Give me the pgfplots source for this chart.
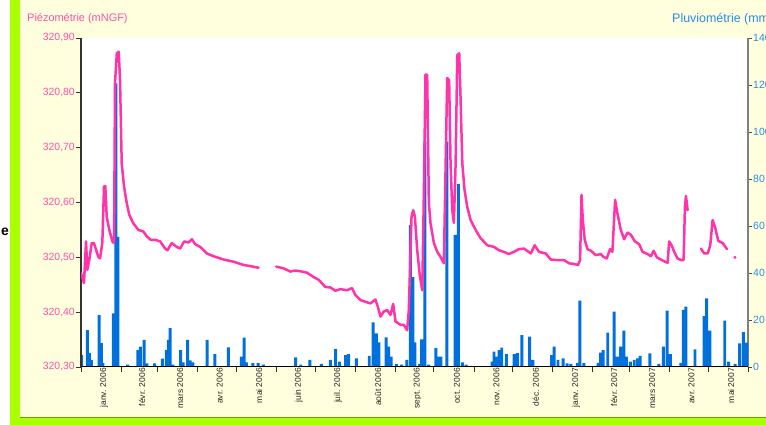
\documentclass[border=0pt]{standalone}
\usepackage{fontspec}
\setmainfont{Liberation Sans}
\usepackage{pgfplots}
\pgfplotsset{compat=1.18}
\definecolor{bgyel}{RGB}{255,255,221}
\definecolor{lime}{RGB}{170,255,0}
\definecolor{limedark}{RGB}{110,160,0}
\definecolor{piez}{RGB}{255,51,170}
\definecolor{piezlab}{RGB}{255,80,170}
\definecolor{rainbar}{RGB}{0,112,221}
\definecolor{rainlab}{RGB}{40,140,235}
\begin{document}
\begin{tikzpicture}
\useasboundingbox (0bp,0bp) rectangle (766bp,425bp);
\clip (0bp,0bp) rectangle (766bp,425bp);
\fill[white] (0bp,0bp) rectangle (766bp,425bp);
\fill[bgyel] (20bp,7bp) rectangle (766bp,425bp);
\fill[lime] (10bp,0bp) rectangle (20bp,425bp);
\fill[lime] (10bp,0bp) rectangle (766bp,7bp);
\draw[limedark, line width=0.8bp] (20bp,7.4bp) -- (766bp,7.4bp);
\fill[white] (81bp,58bp) rectangle (748bp,387bp);
\node[anchor=west, text=piezlab, font=\fontsize{11}{13}\selectfont, inner sep=0pt] at (27bp,406bp) {Piézométrie (mNGF)};
\node[anchor=west, text=rainlab, font=\fontsize{12.5}{14}\selectfont, inner sep=0pt] at (672bp,406bp) {Pluviométrie (mm)};
\node[anchor=east, font=\fontsize{14}{16}\selectfont\bfseries, inner sep=0pt] at (9bp,193bp) {e};

% rainfall bars (right axis)
\begin{axis}[at={(81bp,58bp)}, anchor=south west, scale only axis,
  width=667bp, height=329bp,
  xmin=0, xmax=516, ymin=0, ymax=140,
  axis x line=none, axis y line*=right,
  ytick={0,20,40,60,80,100,120,140},
  tick align=outside, major tick length=4bp,
  tick style={black!70, line width=0.8bp},
  y axis line style={draw=gray, line width=1.6bp},
  yticklabel style={text=rainlab, font=\fontsize{10.5}{12}\selectfont, inner sep=1bp,
    /pgf/number format/assume math mode=true},
]
\addplot[ybar, bar width=2.3, fill=rainbar, draw=none] coordinates {
(0.5,5.1) (5,15.7) (6.5,6) (8,3) (14,22.1) (15.7,10.2) (17,1.7) (25,22.8) (27,120.7) (28.5,55.4)
(36,1) (44,7.2) (46,8.7) (48.8,11.5) (51,1.5) (57,1.5) (63,3.6) (66,7.2) (67.5,11.5) (69,16.5)
(71,1) (77,7.2) (79,2) (82.5,11.5) (84.5,2.8) (86.5,2) (97.5,11.5) (103.5,5.5) (114,8.4) (124,4.4)
(126.2,12.5) (128,2) (133,1.7) (137,1.7) (141,1) (166,4.1) (170,1) (177,3) (186,1.3) (193,3)
(197,7.7) (200,2.3) (204.7,5.1) (207,5.5) (213,3.7) (223,4.7) (226,19) (228.5,14.3) (230.5,10.5) (236,12.6)
(238,8.7) (240,4.4) (244,1.3) (248,1) (252,3) (254.8,60.4) (256.7,38.2) (258.3,10.5) (262,1.3) (263.5,11.8)
(266,95.9) (269,1) (274.5,8) (276.5,4.4) (278.5,4.4) (283,95.9) (289.5,56.2) (292,77.9) (295,2) (298,1)
(318,2.3) (319.5,6.5) (322,4.4) (323.5,7.2) (325.5,8.2) (329,5.5) (335,5.5) (337.5,5.9) (341,13.6) (347,12.9)
(349.5,3) (364,5.1) (366,8.7) (369,3) (373,3.7) (376,1.5) (379,1.3) (384,1.8) (386,28.2) (389,1.8)
(400,1.8) (402,6.1) (404,7.2) (407.5,14.6) (412.5,23.6) (415,4.4) (417.5,8.7) (420,15.5) (422,4.4) (425,2.3)
(428,3) (430.5,3.7) (432.5,4.7) (440,5.8) (447,1.3) (450.5,8.7) (453.5,24) (456,5.5) (464,1.8) (466,24.3)
(468,25.7) (475,7.5) (482,21.7) (484,29.2) (486.5,15.5) (498,19.7) (501,2.3) (506,1.3) (509.5,10.1) (512.5,14.8)
(515,10.4)
};
\end{axis}

% piezometry line (left axis)
\begin{axis}[at={(81bp,58bp)}, anchor=south west, scale only axis,
  width=667bp, height=329bp,
  xmin=0, xmax=516, ymin=320.3, ymax=320.9,
  axis x line*=bottom, axis y line*=left,
  unbounded coords=jump,
  tick align=outside, major tick length=5bp,
  tick style={black!80, line width=0.8bp},
  x axis line style={black, line width=1bp},
  y axis line style={black!80, line width=1.3bp},
  xtick={0,31,59,90,120,151,181,212,243,273,304,334,365,396,424,455,485,516},
  xticklabels={,,,,,,,,,,,,,,,,,},
  extra x ticks={15.5,45,74.5,105,135.5,166,196.5,227.5,258,288.5,319,349.5,380.5,410,439.5,470,500.5},
  extra x tick labels={janv. 2006,févr. 2006,mars 2006,avr. 2006,mai 2006,juin 2006,juil. 2006,août 2006,sept. 2006,oct. 2006,nov. 2006,déc. 2006,janv. 2007,févr. 2007,mars 2007,avr. 2007,mai 2007},
  extra x tick style={major tick length=0pt,
    xticklabel style={rotate=90, anchor=east, font=\fontsize{8.5}{10}\selectfont, text=black!85, inner sep=1bp, yshift=-3bp}},
  ytick={320.3,320.4,320.5,320.6,320.7,320.8,320.9},
  scaled y ticks=false,
  yticklabel style={text=piezlab, font=\fontsize{10.5}{12}\selectfont, inner sep=1bp,
    /pgf/number format/fixed, /pgf/number format/fixed zerofill,
    /pgf/number format/precision=2, /pgf/number format/use comma,
    /pgf/number format/assume math mode=true},
]
\addplot[piez, line width=2.5bp, line join=round, line cap=round] coordinates {
(0,320.471) (2.3,320.453) (3.9,320.529) (4.9,320.477) (6.4,320.495) (8.3,320.526) (10,320.526) (13.4,320.501)
(14.7,320.498) (16.5,320.526) (17.8,320.629) (18.8,320.630) (19.9,320.574) (21.9,320.550) (24.3,320.529) (25.6,320.526)
(26.3,320.817) (27.7,320.872) (29.2,320.875) (30.2,320.823) (31.5,320.671) (33.3,320.629) (35.4,320.599) (37.4,320.577)
(40.5,320.562) (44.4,320.550) (48.3,320.547) (50.9,320.538) (54,320.532) (57.3,320.532) (61.2,320.529) (65.1,320.516)
(66.9,320.513) (70.2,320.526) (74.1,320.519) (76.7,320.516) (79.8,320.529) (83.1,320.527) (85.8,320.533) (88.3,320.524)
(92.2,320.519) (97.4,320.507) (102.5,320.502) (110.3,320.496) (118,320.492) (125.8,320.486) (131,320.484) (137.4,320.481)
(140,nan)
(151,320.483) (156.7,320.480) (161.9,320.474) (165.8,320.476) (171,320.474) (174.8,320.472) (180,320.464) (183.9,320.459)
(189,320.446) (193,320.445) (196.8,320.439) (200.7,320.442) (205.8,320.440) (209.7,320.444) (212.3,320.431) (216.2,320.422)
(220,320.419) (223.9,320.416) (227.8,320.423) (229.6,320.410) (231.7,320.392) (234.2,320.401) (236.9,320.404) (239.4,320.395)
(241.5,320.415) (243.3,320.383) (247.2,320.377) (249.7,320.377) (252.3,320.367) (253.6,320.404) (255.7,320.574) (257,320.586)
(258.3,320.574) (260.1,320.513) (262.2,320.465) (264,320.440) (265.2,320.611) (266.5,320.833) (267.8,320.833) (269.1,320.599)
(270.4,320.562) (273,320.526) (275.6,320.510) (278.1,320.501) (280.7,320.489) (283.3,320.827) (284.8,320.823) (285.9,320.671)
(287.2,320.586) (288.5,320.563) (289.8,320.671) (291.1,320.869) (292.6,320.872) (293.6,320.793) (295,320.671) (296.7,320.623)
(298.8,320.592) (301.4,320.568) (305.3,320.550) (309.1,320.535) (314.3,320.522) (319.5,320.519) (323.3,320.513) (327.1,320.510)
(331,320.506) (334.9,320.510) (338.8,320.515) (342.7,320.516) (348,320.507) (351,320.522) (354.3,320.510) (359.5,320.507)
(363.4,320.496) (368.5,320.495) (373.7,320.495) (377.6,320.489) (381.4,320.488) (384.5,320.486) (386.1,320.495) (387.2,320.614)
(388.2,320.568) (389.7,320.532) (391.8,320.515) (394.4,320.512) (398.2,320.504) (402.1,320.506) (404.1,320.501) (406.7,320.498)
(409.3,320.515) (411.1,320.510) (413.2,320.605) (415,320.580) (417.6,320.550) (420.2,320.533) (422.8,320.545) (425.4,320.541)
(428.5,320.529) (431.8,320.524) (434.4,320.510) (438.3,320.506) (440.9,320.502) (443,320.512) (445.5,320.500) (448.6,320.496)
(451.7,320.492) (453.8,320.490) (455,320.529) (456.9,320.522) (458.9,320.510) (461.5,320.498) (464.1,320.495) (466.2,320.495)
(467.2,320.592) (468,320.612) (469.3,320.586)
(474,nan)
(479.6,320.516) (482.1,320.507) (484.8,320.507) (486.8,320.522) (488.6,320.568) (490.4,320.556) (493,320.530) (496.4,320.526)
(499.7,320.515)
};
\addplot[only marks, mark=*, mark size=1.3bp, piez] coordinates {(505.9,320.500)};
\end{axis}
\end{tikzpicture}
\end{document}
